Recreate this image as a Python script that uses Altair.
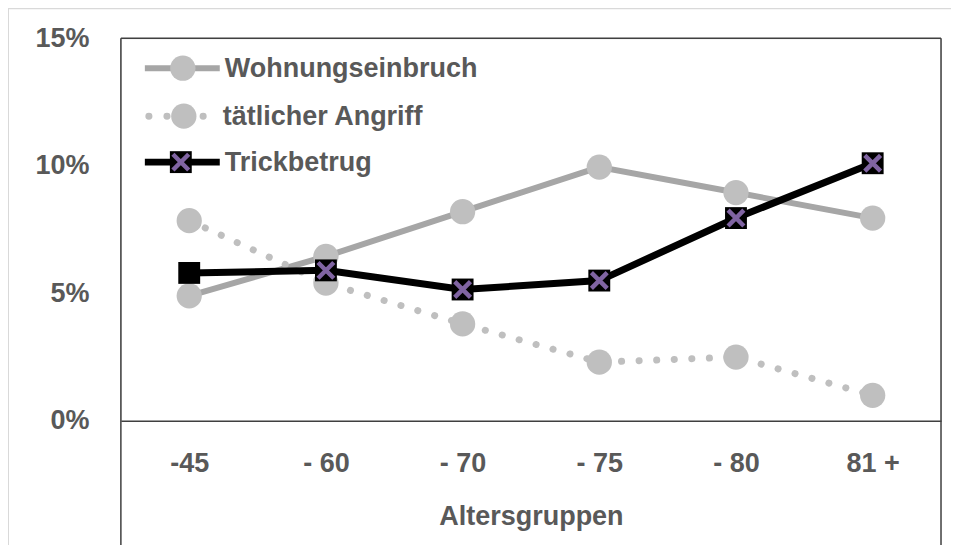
import altair as alt
import pandas as pd

categories = ["-45", "- 60", "- 70", "- 75", "- 80", "81 +"]
series_names = ["Wohnungseinbruch", "tätlicher Angriff", "Trickbetrug"]
wohnungseinbruch = [4.9, 6.45, 8.2, 9.95, 8.95, 7.95]
taetlicher_angriff = [7.85, 5.4, 3.8, 2.3, 2.5, 1.0]
trickbetrug = [5.8, 5.9, 5.15, 5.5, 7.95, 10.1]
x_marker = [False, True, True, True, True, True]

rows = []
for s, vals in zip(series_names, [wohnungseinbruch, taetlicher_angriff, trickbetrug]):
    for c, v, m in zip(categories, vals, x_marker):
        rows.append({"cat": c, "series": s, "value": v, "xmark": m})
df = pd.DataFrame(rows)
one = pd.DataFrame({"k": [0]})

W, H = 821, 383
FONT = "Liberation Sans"
TXT = "#595959"

base = alt.Chart(df)
xenc = alt.X("cat:N", sort=categories, scale=alt.Scale(type="point", padding=0.5),
             axis=alt.Axis(title="Altersgruppen", labelAngle=0, labelFontSize=27, labelFont=FONT,
                           labelFontWeight="bold", labelColor=TXT, labelPadding=30, ticks=False,
                           domain=True, domainColor="#404040", domainWidth=1.5,
                           titleFontSize=27, titleFont=FONT, titleFontWeight="bold", titleColor=TXT,
                           titlePadding=27))
yenc = alt.Y("value:Q", scale=alt.Scale(domain=[0, 15], nice=False),
             axis=alt.Axis(values=[0, 5, 10, 15], labelExpr="datum.value + '%'", title=None,
                           labelFontSize=27, labelFont=FONT, labelFontWeight="bold", labelColor=TXT,
                           labelPadding=32, ticks=False, domain=False, grid=False))

w_line = base.transform_filter(alt.datum.series == series_names[0]).mark_line(
    color="#a6a6a6", strokeWidth=6).encode(x=xenc, y=yenc)
w_pts = base.transform_filter(alt.datum.series == series_names[0]).mark_circle(
    color="#bfbfbf", opacity=1, size=640).encode(x=xenc, y=yenc)
a_line = base.transform_filter(alt.datum.series == series_names[1]).mark_line(
    color="#bfbfbf", strokeWidth=7, strokeDash=[0.1, 17.5], strokeCap="round").encode(x=xenc, y=yenc)
a_pts = base.transform_filter(alt.datum.series == series_names[1]).mark_circle(
    color="#bfbfbf", opacity=1, size=640).encode(x=xenc, y=yenc)
t_line = base.transform_filter(alt.datum.series == series_names[2]).mark_line(
    color="black", strokeWidth=7).encode(x=xenc, y=yenc)
t_sq = base.transform_filter(alt.datum.series == series_names[2]).mark_point(
    shape="square", filled=True, color="black", opacity=1, size=480).encode(x=xenc, y=yenc)
XPATH = "M-1,-1L1,1M-1,1L1,-1"
t_x = base.transform_filter((alt.datum.series == series_names[2]) & alt.datum.xmark).mark_point(
    shape=XPATH, filled=False, color="#8064a2", strokeWidth=4.5, opacity=1, size=250).encode(x=xenc, y=yenc)

deco = alt.Chart(one)
# frame lines
frame_col = "#404040"
top_rule = deco.mark_rule(color=frame_col, strokeWidth=1.5).encode(
    x=alt.value(0), x2=alt.value(W), y=alt.value(0))
left_rule = deco.mark_rule(color=frame_col, strokeWidth=1.5).encode(
    x=alt.value(0), y=alt.value(0), y2=alt.value(H + 140))
right_rule = deco.mark_rule(color=frame_col, strokeWidth=1.5).encode(
    x=alt.value(W), y=alt.value(0), y2=alt.value(H + 140))
# outer chart-area border
ob_col = "#d9d9d9"
outer_top = deco.mark_rule(color=ob_col, strokeWidth=2).encode(
    x=alt.value(-113), x2=alt.value(W + 40), y=alt.value(-30))
outer_left = deco.mark_rule(color=ob_col, strokeWidth=2).encode(
    x=alt.value(-113), y=alt.value(-30), y2=alt.value(H + 140))

# legend
leg = []
rows_y = [30, 78, 124]
leg.append(deco.mark_rule(color="#a6a6a6", strokeWidth=6).encode(
    x=alt.value(24), x2=alt.value(99), y=alt.value(rows_y[0])))
leg.append(deco.mark_circle(color="#bfbfbf", opacity=1, size=640).encode(
    x=alt.value(62), y=alt.value(rows_y[0])))
leg.append(deco.mark_rule(color="#bfbfbf", strokeWidth=7, strokeDash=[0.1, 18],
                          strokeCap="round").encode(
    x=alt.value(28), x2=alt.value(100), y=alt.value(rows_y[1])))
leg.append(deco.mark_circle(color="#bfbfbf", opacity=1, size=640).encode(
    x=alt.value(63), y=alt.value(rows_y[1])))
leg.append(deco.mark_rule(color="black", strokeWidth=7).encode(
    x=alt.value(24), x2=alt.value(99), y=alt.value(rows_y[2])))
leg.append(deco.mark_point(shape="square", filled=True, color="black", opacity=1, size=480).encode(
    x=alt.value(60), y=alt.value(rows_y[2])))
leg.append(deco.mark_point(shape=XPATH, filled=False, color="#8064a2", strokeWidth=4.5,
                           opacity=1, size=250).encode(
    x=alt.value(60), y=alt.value(rows_y[2])))
text_x = [104, 102, 104]
for name, yy, tx in zip(series_names, rows_y, text_x):
    leg.append(deco.mark_text(align="left", baseline="middle", fontSize=27, font=FONT,
                              fontWeight="bold", color=TXT).encode(
        x=alt.value(tx), y=alt.value(yy + 1), text=alt.value(name)))

chart = alt.layer(
    outer_top, outer_left, top_rule, left_rule, right_rule,
    w_line, w_pts, a_line, a_pts, t_line, t_sq, t_x, *leg
).properties(
    width=W, height=H,
    autosize=alt.AutoSizeParams(type="none"),
    padding={"left": 113, "top": 30, "right": 10, "bottom": 130},
).configure_view(stroke=None).configure(background="white")

chart.save("out.html", embed_options={"renderer": "svg", "actions": False})
